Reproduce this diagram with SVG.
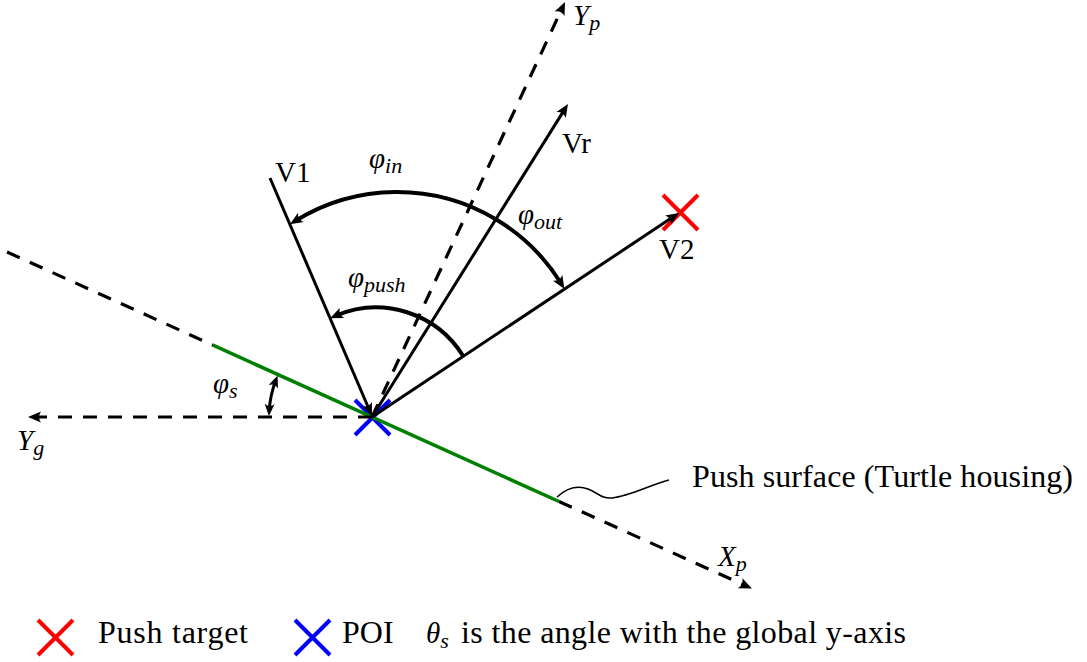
<svg xmlns="http://www.w3.org/2000/svg" width="1087" height="662" viewBox="0 0 1087 662">
<style>
.ln{fill:none;stroke:#000;stroke-width:3}
.dash{fill:none;stroke:#000;stroke-width:3.2;stroke-dasharray:14 11}
.arc{fill:none;stroke:#000;stroke-width:4}
.red{stroke:#ff0000;stroke-width:4;fill:none}
.blue{stroke:#0000ff;stroke-width:4;fill:none}
.txt{font-family:"Liberation Serif","Times New Roman",serif;font-size:32px;fill:#000}
.lab{font-family:"Liberation Serif","Times New Roman",serif;font-size:29px;fill:#000}
.m{font-family:"Liberation Serif","Times New Roman",serif;font-style:italic;font-size:29px;fill:#000}
.sub{font-size:22px}
</style>
<defs>
<marker id="arr" markerUnits="userSpaceOnUse" orient="auto" refX="7" refY="0" markerWidth="14" markerHeight="12" overflow="visible">
<path d="M0,-5.5 Q4,0 0,5.5 L13,0 Z" fill="#000"/>
</marker>
<marker id="arr2" markerUnits="userSpaceOnUse" orient="auto-start-reverse" refX="7" refY="0" markerWidth="14" markerHeight="12" overflow="visible">
<path d="M0,-5 Q4,0 0,5 L12,0 Z" fill="#000"/>
</marker>
</defs>
<rect x="0" y="0" width="1087" height="662" fill="#fff"/>

<g id="push-target">
<path class="red" d="M663,195 L698,230 M663,230 L698,195"/>
</g>
<g id="poi">
<path class="blue" d="M355,400 L390,435 M355,435 L390,400"/>
</g>

<g id="connectors">
<path class="dash" d="M7,252 L213,345.2"/>
<path d="M213,345.2 L559,501.5" fill="none" stroke="#008000" stroke-width="3.5"/>
<path class="dash" d="M559,501.5 L746.5,586.1" marker-end="url(#arr)"/>
<path class="dash" d="M372,417 L34,417" marker-end="url(#arr)"/>
<path class="dash" d="M372,417 L562.5,7.4" marker-end="url(#arr)"/>
<path class="ln" d="M270,178 L369.6,410.5" marker-end="url(#arr)"/>
<path class="ln" d="M372,417 L564.8,109.1" marker-end="url(#arr)"/>
<path class="ln" d="M372,417 L674,216.3" marker-end="url(#arr)"/>
<path class="arc" d="M495.8,219.2 A193,193 0 0 0 295,221.1" marker-end="url(#arr)"/>
<path class="arc" d="M495.8,219.2 A193,193 0 0 1 561.3,283.8" marker-end="url(#arr)"/>
<path class="arc" d="M463.3,356.3 A102.5,102.5 0 0 0 335.5,315.8" marker-end="url(#arr)"/>
<path d="M269.2,411 A103,103 0 0 1 275.8,380.2" fill="none" stroke="#000" stroke-width="3" marker-start="url(#arr2)" marker-end="url(#arr2)"/>
<path d="M557,497 C567,488 577,485 588,489 C598,493 602,499 612,498 C630,496 650,485 669,480" fill="none" stroke="#000" stroke-width="1.5"/>
</g>

<g id="labels">
<text class="m" x="573" y="25">Y<tspan class="sub" dy="5">p</tspan></text>
<text class="m" x="17" y="450">Y<tspan class="sub" dy="5">g</tspan></text>
<text class="m" x="718" y="566">X<tspan class="sub" dy="5">p</tspan></text>
<text class="lab" x="275" y="182">V1</text>
<text class="lab" x="562" y="153">Vr</text>
<text class="lab" x="659" y="259">V2</text>
<text class="m" x="369" y="168">φ<tspan class="sub" dy="5">in</tspan></text>
<text class="m" x="518" y="224">φ<tspan class="sub" dy="5">out</tspan></text>
<text class="m" x="348" y="287">φ<tspan class="sub" dy="5">push</tspan></text>
<text class="m" x="213" y="393">φ<tspan class="sub" dy="5">s</tspan></text>
<text class="txt" x="692" y="487" textLength="381" lengthAdjust="spacing">Push surface (Turtle housing)</text>
</g>

<g id="legend">
<path class="red" d="M38,620 L73,655 M38,655 L73,620"/>
<text class="txt" x="98" y="643" textLength="150" lengthAdjust="spacing">Push target</text>
<path class="blue" d="M295,620 L330,655 M295,655 L330,620"/>
<text class="txt" x="342" y="643">POI</text>
<text class="m" x="426" y="643">θ<tspan class="sub" dy="5">s</tspan></text>
<text class="txt" x="461" y="643" textLength="445" lengthAdjust="spacing">is the angle with the global y-axis</text>
</g>
</svg>
